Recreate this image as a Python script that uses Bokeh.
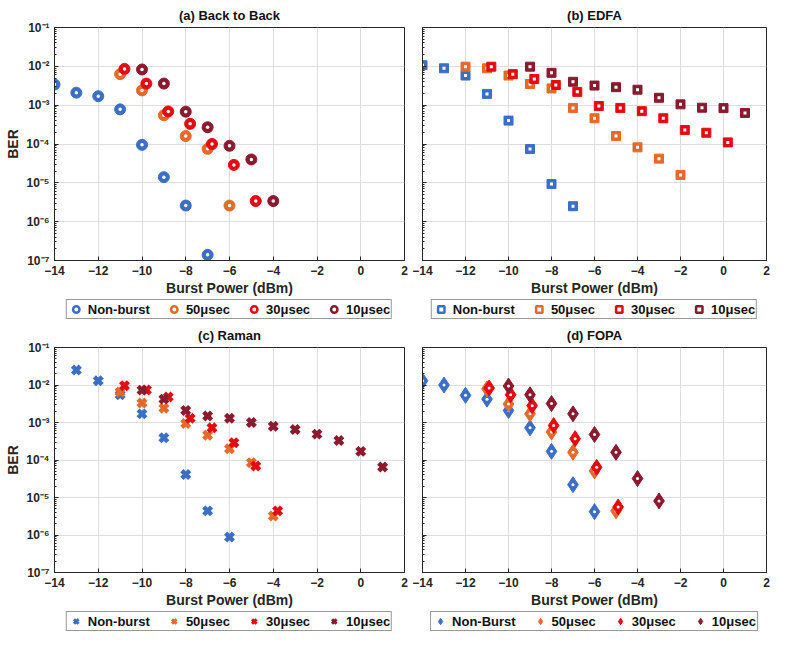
from bokeh.plotting import figure
from bokeh.layouts import column, row
from bokeh.models import FixedTicker, CustomJSTickFormatter, Legend, LegendItem
from bokeh.embed import file_html
from bokeh.resources import INLINE

# ---------------- data ----------------
series_labels = ["Non-burst", "50\u03bcsec", "30\u03bcsec", "10\u03bcsec"]
series_labels_d = ["Non-Burst", "50\u03bcsec", "30\u03bcsec", "10\u03bcsec"]

# (a) Back to Back
a_nb_x = [-14, -13, -12, -11, -10, -9, -8, -7]
a_nb_y = [3.4e-3, 2.1e-3, 1.7e-3, 7.8e-4, 9.5e-5, 1.4e-5, 2.6e-6, 1.4e-7]
a_50_x = [-11, -10, -9, -8, -7, -6]
a_50_y = [6.3e-3, 2.4e-3, 5.5e-4, 1.6e-4, 7.5e-5, 2.6e-6]
a_30_x = [-10.8, -9.8, -8.8, -7.8, -6.8, -5.8, -4.8]
a_30_y = [8.6e-3, 3.6e-3, 6.9e-4, 3.3e-4, 1.0e-4, 2.9e-5, 3.4e-6]
a_10_x = [-10, -9, -8, -7, -6, -5, -4]
a_10_y = [8.3e-3, 3.6e-3, 6.8e-4, 2.7e-4, 9.0e-5, 4.0e-5, 3.4e-6]

# (b) EDFA
b_nb_x = [-14, -13, -12, -11, -10, -9, -8, -7]
b_nb_y = [1.07e-2, 8.9e-3, 5.8e-3, 1.95e-3, 4.0e-4, 7.4e-5, 9.3e-6, 2.5e-6]
b_50_x = [-12, -11, -10, -9, -8, -7, -6, -5, -4, -3, -2]
b_50_y = [9.8e-3, 8.9e-3, 5.8e-3, 3.5e-3, 2.7e-3, 8.5e-4, 4.6e-4, 1.6e-4, 8.2e-5, 4.2e-5, 1.6e-5]
b_30_x = [-10.8, -9.8, -8.8, -7.8, -6.8, -5.8, -4.8, -3.8, -2.8, -1.8, -0.8, 0.2]
b_30_y = [9.8e-3, 6.3e-3, 4.7e-3, 3.3e-3, 2.2e-3, 9.5e-4, 8.5e-4, 7.0e-4, 4.6e-4, 2.3e-4, 1.95e-4, 1.1e-4]
b_10_x = [-9, -8, -7, -6, -5, -4, -3, -2, -1, 0, 1]
b_10_y = [9.8e-3, 6.8e-3, 4.0e-3, 3.2e-3, 2.9e-3, 2.5e-3, 1.55e-3, 1.05e-3, 8.6e-4, 8.4e-4, 6.3e-4]

# (c) Raman
c_nb_x = [-13, -12, -11, -10, -9, -8, -7, -6]
c_nb_y = [2.5e-2, 1.3e-2, 5.5e-3, 1.7e-3, 3.9e-4, 4.1e-5, 4.4e-6, 8.8e-7]
c_50_x = [-11, -10, -9, -8, -7, -6, -5, -4]
c_50_y = [6.5e-3, 3.3e-3, 2.4e-3, 9.4e-4, 4.6e-4, 2.0e-4, 8.5e-5, 3.2e-6]
c_30_x = [-10.8, -9.8, -8.8, -7.8, -6.8, -5.8, -4.8, -3.8]
c_30_y = [9.6e-3, 7.4e-3, 4.8e-3, 1.3e-3, 7.2e-4, 2.9e-4, 6.9e-5, 4.4e-6]
c_10_x = [-10, -9, -8, -7, -6, -5, -4, -3, -2, -1, 0, 1]
c_10_y = [7.3e-3, 4.2e-3, 2.1e-3, 1.5e-3, 1.3e-3, 1.0e-3, 7.9e-4, 6.5e-4, 4.9e-4, 3.3e-4, 1.7e-4, 6.5e-5]

# (d) FOPA
d_nb_x = [-14, -13, -12, -11, -10, -9, -8, -7, -6]
d_nb_y = [1.3e-2, 1.0e-2, 5.3e-3, 4.2e-3, 2.1e-3, 7.2e-4, 1.7e-4, 2.2e-5, 4.2e-6]
d_50_x = [-11, -10, -9, -8, -7, -6, -5]
d_50_y = [7.9e-3, 3.1e-3, 1.7e-3, 5.6e-4, 1.6e-4, 5.1e-5, 4.4e-6]
d_30_x = [-10.9, -9.9, -8.9, -7.9, -6.9, -5.9, -4.9]
d_30_y = [8.3e-3, 5.5e-3, 2.8e-3, 8.3e-4, 3.7e-4, 6.4e-5, 5.6e-6]
d_10_x = [-10, -9, -8, -7, -6, -5, -4, -3]
d_10_y = [9.4e-3, 5.5e-3, 3.2e-3, 1.7e-3, 4.8e-4, 1.6e-4, 3.2e-5, 8.1e-6]

x_ticks = [-14, -12, -10, -8, -6, -4, -2, 0, 2]
y_ticks = [1e-7, 1e-6, 1e-5, 1e-4, 1e-3, 1e-2, 1e-1]
y_minor = [m * t for t in y_ticks[:-1] for m in range(2, 10)]

COLORS = ["#3A6FC6", "#E56A2A", "#E60A10", "#8C1A2E"]
FONT = "Liberation Sans"
AXC = "#262626"

LEFT_W, RIGHT_W = 410, 364
LEFT_B, RIGHT_B = 54, 12


def draw(p, xs, ys, marker, col):
    rs = []
    if marker == "circle":
        rs.append(p.scatter(xs, ys, marker="circle", size=11, fill_color=col, line_color=col))
        rs.append(p.scatter(xs, ys, marker="circle", size=3.5, fill_color="white", line_color=None))
    elif marker == "square":
        rs.append(p.scatter(xs, ys, marker="square", size=9, fill_color=col, line_color=col))
        rs.append(p.scatter(xs, ys, marker="square", size=3, fill_color="white", line_color=None))
    elif marker == "x":
        rs.append(p.scatter(xs, ys, marker="x", size=11, line_color=col, line_width=4.5))
    else:
        rs.append(p.scatter(xs, ys, marker="diamond", size=16, fill_color=col, line_color=col))
        rs.append(p.scatter(xs, ys, marker="circle", size=3, fill_color="white", line_color=None))
    return rs


def draw_legend_glyph(p, xs, ys, marker, col):
    # one renderer per item: the legend draws every glyph at the legend size
    if marker == "circle":
        return p.scatter(xs, ys, marker="circle", size=11, fill_color="white", line_color=col, line_width=2.5)
    if marker == "square":
        return p.scatter(xs, ys, marker="square", size=9, fill_color="white", line_color=col, line_width=2.5)
    if marker == "x":
        return p.scatter(xs, ys, marker="x", size=11, line_color=col, line_width=3)
    return p.scatter(xs, ys, marker="diamond", size=16, fill_color=col, line_color=col)


def make_panel(title, data, marker, left, height):
    p = figure(width=(LEFT_W if left else RIGHT_W), height=height, y_axis_type="log",
               x_range=(-14, 2), y_range=(1e-7, 1e-1),
               output_backend="svg", toolbar_location=None,
               min_border_left=(LEFT_B if left else RIGHT_B),
               min_border_right=(6 if left else 8),
               min_border_top=2, min_border_bottom=0,
               title=title)
    p.title.align = "center"
    p.title.text_font = FONT
    p.title.text_font_size = "13px"
    p.title.text_font_style = "bold"
    p.title.text_color = "#111111"

    p.xaxis.ticker = FixedTicker(ticks=x_ticks)
    p.yaxis.ticker = FixedTicker(ticks=y_ticks, minor_ticks=y_minor)
    p.xaxis.axis_label = "Burst Power (dBm)"
    if left:
        p.yaxis.formatter = CustomJSTickFormatter(code="""
const sup = {'-':'\u207b','0':'\u2070','1':'\u00b9','2':'\u00b2','3':'\u00b3','4':'\u2074','5':'\u2075','6':'\u2076','7':'\u2077','8':'\u2078','9':'\u2079'};
const e = Math.round(Math.log10(tick));
return '10' + String(e).split('').map(c => sup[c]).join('');
""")
        p.yaxis.axis_label = "BER"
    else:
        p.yaxis.formatter = CustomJSTickFormatter(code="return ' ';")
    for ax in (p.xaxis[0], p.yaxis[0]):
        ax.axis_label_text_font = FONT
        ax.axis_label_text_font_size = "14px"
        ax.axis_label_text_font_style = "bold"
        ax.axis_label_text_color = AXC
        ax.major_label_text_font = FONT
        ax.major_label_text_font_size = "12px"
        ax.major_label_text_font_style = "bold"
        ax.major_label_text_color = AXC
        ax.axis_line_color = AXC
        ax.major_tick_line_color = AXC
        ax.minor_tick_line_color = AXC
        ax.major_tick_in = 4
        ax.major_tick_out = 0
        ax.minor_tick_in = 2
        ax.minor_tick_out = 0
        ax.axis_label_standoff = 2
    p.xaxis.minor_tick_line_color = None

    p.grid.grid_line_color = "#dedede"
    p.outline_line_color = AXC

    for (xs, ys), col in zip(data, COLORS):
        draw(p, xs, ys, marker, col)
    return p


def make_legend(data, marker, labels, left, height):
    # legend strip: series glyphs are drawn from the data, but the view range
    # lies far outside the data so only the legend box is visible
    lf = figure(width=(LEFT_W if left else RIGHT_W), height=height,
                x_range=(1000, 1001), y_range=(1000, 1001),
                output_backend="svg", toolbar_location=None,
                min_border_left=(LEFT_B if left else RIGHT_B),
                min_border_right=(6 if left else 8),
                min_border_top=0, min_border_bottom=0,
                x_axis_location=None, y_axis_location=None)
    lf.outline_line_color = None
    lf.grid.visible = False
    items = []
    for (xs, ys), col, lab in zip(data, COLORS, labels):
        r = draw_legend_glyph(lf, xs, ys, marker, col)
        items.append(LegendItem(label=lab, renderers=[r]))
    leg = Legend(items=items, orientation="horizontal", location="center")
    leg.border_line_color = "#333333"
    leg.border_line_width = 1.5
    leg.label_text_font = FONT
    leg.label_text_font_size = "13px"
    leg.label_text_font_style = "bold"
    leg.label_text_color = "#111111"
    leg.glyph_width = 16
    leg.glyph_height = 16
    leg.label_height = 14
    leg.label_standoff = 4
    leg.spacing = 16
    leg.padding = 1
    leg.margin = 0
    lf.add_layout(leg, "center")
    return lf


data_a = [(a_nb_x, a_nb_y), (a_50_x, a_50_y), (a_30_x, a_30_y), (a_10_x, a_10_y)]
data_b = [(b_nb_x, b_nb_y), (b_50_x, b_50_y), (b_30_x, b_30_y), (b_10_x, b_10_y)]
data_c = [(c_nb_x, c_nb_y), (c_50_x, c_50_y), (c_30_x, c_30_y), (c_10_x, c_10_y)]
data_d = [(d_nb_x, d_nb_y), (d_50_x, d_50_y), (d_30_x, d_30_y), (d_10_x, d_10_y)]

pa = make_panel("(a) Back to Back", data_a, "circle", True, 298)
pb = make_panel("(b) EDFA", data_b, "square", False, 298)
pc = make_panel("(c) Raman", data_c, "x", True, 290)
pd = make_panel("(d) FOPA", data_d, "diamond", False, 290)

la = make_legend(data_a, "circle", series_labels, True, 22)
lb = make_legend(data_b, "square", series_labels, False, 22)
lc = make_legend(data_c, "x", series_labels, True, 22)
ld = make_legend(data_d, "diamond", series_labels_d, False, 22)

layout = column(row(pa, pb), row(la, lb), row(pc, pd), row(lc, ld), spacing=0)

open("out.html", "w").write(file_html(layout, INLINE))
